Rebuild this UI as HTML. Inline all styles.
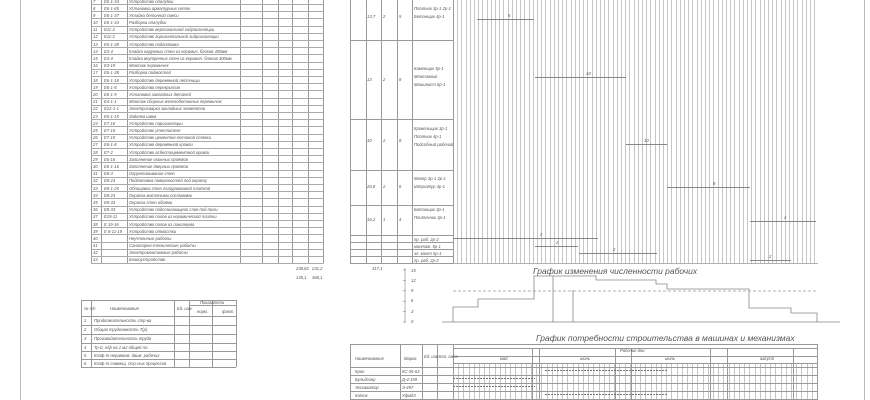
<!DOCTYPE html>
<html><head><meta charset="utf-8"><style>
html,body{margin:0;padding:0;background:#fff}
svg{display:block}
text{font-family:"Liberation Sans",sans-serif;font-style:italic;fill:#555}
</style></head><body>
<svg id="s" width="870" height="400" viewBox="0 0 870 400" xmlns="http://www.w3.org/2000/svg">
<g id="g" stroke="#999" stroke-width="0.7" fill="none"></g>
<g font-size="4.2">
<text x="93" y="3">7</text><text x="104" y="3">Е6-1-34</text><text x="129" y="3">Устройство опалубки</text>
<text x="93" y="10">8</text><text x="104" y="10">Е6-1-65</text><text x="129" y="10">Установка арматурных сеток</text>
<text x="93" y="17">9</text><text x="104" y="17">Е6-1-37</text><text x="129" y="17">Укладка бетонной смеси</text>
<text x="93" y="24">10</text><text x="104" y="24">Е6-1-34</text><text x="129" y="24">Разборка опалубки</text>
<text x="93" y="31">11</text><text x="104" y="31">Е11-2</text><text x="129" y="31">Устройство вертикальной гидроизоляции</text>
<text x="93" y="38">12</text><text x="104" y="38">Е11-2</text><text x="129" y="38">Устройство горизонтальной гидроизоляции</text>
<text x="93" y="46">13</text><text x="104" y="46">Е6-1-38</text><text x="129" y="46">Устройство подготовки</text>
<text x="93" y="53">14</text><text x="104" y="53">Е3-4</text><text x="129" y="53">Кладка наружных стен из керамич. блоков 400мм</text>
<text x="93" y="60">15</text><text x="104" y="60">Е3-4</text><text x="129" y="60">Кладка внутренних стен из керамич. блоков 300мм</text>
<text x="93" y="67">16</text><text x="104" y="67">Е3-19</text><text x="129" y="67">Монтаж перемычек</text>
<text x="93" y="74">17</text><text x="104" y="74">Е6-1-38</text><text x="129" y="74">Разборка подмостей</text>
<text x="93" y="82">18</text><text x="104" y="82">Е6-1-18</text><text x="129" y="82">Устройство деревянной лестницы</text>
<text x="93" y="89">19</text><text x="104" y="89">Е6-1-8</text><text x="129" y="89">Устройство перекрытия</text>
<text x="93" y="96">20</text><text x="104" y="96">Е6-1-9</text><text x="129" y="96">Установка закладных деталей</text>
<text x="93" y="103">21</text><text x="104" y="103">Е4-1-1</text><text x="129" y="103">Монтаж сборных железобетонных перемычек</text>
<text x="93" y="110">22</text><text x="104" y="110">Е22-1-1</text><text x="129" y="110">Электросварка закладных элементов</text>
<text x="93" y="118">23</text><text x="104" y="118">Е6-1-15</text><text x="129" y="118">Заделка швов</text>
<text x="93" y="125">24</text><text x="104" y="125">Е7-16</text><text x="129" y="125">Устройство пароизоляции</text>
<text x="93" y="132">25</text><text x="104" y="132">Е7-15</text><text x="129" y="132">Устройство утеплителя</text>
<text x="93" y="139">26</text><text x="104" y="139">Е7-15</text><text x="129" y="139">Устройство цементно-песчаной стяжки</text>
<text x="93" y="146">27</text><text x="104" y="146">Е6-1-8</text><text x="129" y="146">Устройство деревянной кровли</text>
<text x="93" y="154">28</text><text x="104" y="154">Е7-2</text><text x="129" y="154">Устройство асбестоцементной кровли</text>
<text x="93" y="161">29</text><text x="104" y="161">Е6-16</text><text x="129" y="161">Заполнение оконных проёмов</text>
<text x="93" y="168">30</text><text x="104" y="168">Е6-1-16</text><text x="129" y="168">Заполнение дверных проёмов</text>
<text x="93" y="175">31</text><text x="104" y="175">Е8-4</text><text x="129" y="175">Огрунтовывание стен</text>
<text x="93" y="182">32</text><text x="104" y="182">Е8-24</text><text x="129" y="182">Подготовка поверхностей под окраску</text>
<text x="93" y="190">33</text><text x="104" y="190">Е8-1-25</text><text x="129" y="190">Облицовка стен глазурованной плиткой</text>
<text x="93" y="197">34</text><text x="104" y="197">Е8-24</text><text x="129" y="197">Окраска масляными составами</text>
<text x="93" y="204">35</text><text x="104" y="204">Е8-33</text><text x="129" y="204">Окраска стен обоями</text>
<text x="93" y="211">36</text><text x="104" y="211">Е8-33</text><text x="129" y="211">Устройство подстилающего слоя под полы</text>
<text x="93" y="218">37</text><text x="104" y="218">Е19-11</text><text x="129" y="218">Устройство полов из керамической плитки</text>
<text x="93" y="226">38</text><text x="104" y="226">Е 19-16</text><text x="129" y="226">Устройство полов из линолеума</text>
<text x="93" y="233">39</text><text x="104" y="233">Е 8-11-19</text><text x="129" y="233">Устройство отмостки</text>
<text x="93" y="240">40</text><text x="129" y="240">Неучтенные работы</text>
<text x="93" y="247">41</text><text x="129" y="247">Санитарно-технические работы</text>
<text x="93" y="254">42</text><text x="129" y="254">Электромонтажные работы</text>
<text x="93" y="261">43</text><text x="129" y="261">Благоустройство</text>
<text x="296" y="270">238,82</text><text x="312" y="270">231,2</text><text x="372" y="270">317,1</text>
<text x="296" y="279">135,1</text><text x="312" y="279">368,1</text>
<text x="367" y="81">13</text><text x="383" y="81">2</text><text x="399" y="81">8</text>
<text x="367" y="18">13,7</text><text x="383" y="18">2</text><text x="399" y="18">5</text>
<text x="367" y="142">10</text><text x="383" y="142">2</text><text x="399" y="142">8</text>
<text x="367" y="188">20,8</text><text x="383" y="188">2</text><text x="399" y="188">6</text>
<text x="367" y="221">16,2</text><text x="383" y="221">1</text><text x="399" y="221">4</text>
<text x="414" y="10">Плотник 3р-1 2р-1</text><text x="414" y="18">Бетонщик 4р-1</text>
<text x="414" y="70">Каменщик 5р-1</text><text x="414" y="78">Монтажник</text><text x="414" y="86">Машинист 6р-1</text>
<text x="414" y="130">Кровельщик 3р-1</text><text x="414" y="138">Плотник 4р-1</text><text x="414" y="146">Подсобный рабочий</text>
<text x="414" y="180">Маляр 3р-1 2р-1</text><text x="414" y="188">Штукатур 4р-1</text>
<text x="414" y="211">Бетонщик 3р-1</text><text x="414" y="219">Плиточник 3р-1</text>
<text x="414" y="241">пр. раб. 2р-2</text><text x="414" y="248">монтаж. 5р-1</text><text x="414" y="255">эл.-монт 5р-1</text><text x="414" y="262">пр. раб. 2р-2</text>
<text x="508" y="17">5</text><text x="586" y="75">10</text><text x="644" y="142">10</text><text x="713" y="185">8</text><text x="784" y="219">4</text>
<text x="540" y="236">2</text><text x="556" y="244">2</text><text x="613" y="251">2</text><text x="769" y="258">2</text>
<text x="411" y="272">15</text><text x="411" y="282">12</text><text x="411" y="292">9</text><text x="411" y="302">6</text><text x="411" y="313">3</text><text x="411" y="323">0</text>
<text x="84" y="310">№ п/п</text><text x="110" y="310">Наименование</text><text x="177" y="310">Ед. изм.</text><text x="200" y="304">Показатели</text>
<text x="197" y="313">норм.</text><text x="222" y="313">факт.</text>
<text x="84" y="322">1</text><text x="94" y="322">Продолжительность стр-ва</text>
<text x="84" y="331">2</text><text x="94" y="331">Общая трудоемкость Т(р)</text>
<text x="84" y="340">3</text><text x="94" y="340">Производительность труда</text>
<text x="84" y="349">4</text><text x="94" y="349">Тр-й. н/ф на 1 м2 общей пл.</text>
<text x="84" y="357">5</text><text x="94" y="357">Коэф-т неравном. движ. рабочих</text>
<text x="84" y="365">6</text><text x="94" y="365">Коэф-т совмещ. стр-ных процессов</text>
<text x="355" y="360">Наименование</text><text x="404" y="360">Марка</text><text x="424" y="358">Ед. изм.</text><text x="439" y="358">Кол. смен</text>
<text x="620" y="352">Рабочие дни</text><text x="500" y="360">май</text><text x="580" y="360">июнь</text><text x="665" y="360">июль</text><text x="760" y="360">август</text>
<text x="355" y="373">Кран</text><text x="402" y="373">КС-35-63</text><text x="355" y="381">Бульдозер</text><text x="402" y="381">Д-4-159</text>
<text x="355" y="389">Экскаватор</text><text x="402" y="389">Э-497</text><text x="355" y="397">Каток</text><text x="402" y="397">Уфмд3</text>
</g>
<text x="533" y="274" font-size="8.5">График изменения численности рабочих</text>
<text x="536" y="341" font-size="8.5">График потребности строительства в машинах и механизмах</text>
</svg>
<script>
var g=document.getElementById('g'),N='http://www.w3.org/2000/svg';
function L(x1,y1,x2,y2,c,w,d,cr){var l=document.createElementNS(N,'line');l.setAttribute('x1',x1);l.setAttribute('y1',y1);l.setAttribute('x2',x2);l.setAttribute('y2',y2);if(c)l.setAttribute('stroke',c);if(w)l.setAttribute('stroke-width',w);if(d)l.setAttribute('stroke-dasharray',d);if(cr)l.setAttribute('shape-rendering','crispEdges');g.appendChild(l);}
function P(pts,c,w){var p=document.createElementNS(N,'polyline');p.setAttribute('points',pts);p.setAttribute('stroke',c||'#888');p.setAttribute('stroke-width',w||0.8);g.appendChild(p);}
L(20.5,0,20.5,400,'#bbb',1,0,1);L(864.5,0,864.5,400,'#bbb',1,0,1);
// gantt grid
for(var x=453;x<=818;x+=4.2)L(Math.round(x)+0.5,0,Math.round(x)+0.5,263.5,'#c6c6c6',1,0,1);
L(453,263.5,818,263.5);
// main table
[91,101,127,240,262,278,292,308,323,350,366,381,397,412,453].forEach(function(x){L(x+0.5,0,x+0.5,263.5,'#9a9a9a',1,0,1);});
for(var i=0;i<=36;i++){var y=Math.round(4+i*7.2)+0.5;L(91,y,323,y,'#aaa',1,0,1);}
[40,119,170,205,235,242,249,256,263].forEach(function(y){L(350,y+0.5,453,y+0.5,'#9a9a9a',1,0,1);});
[[477,534,19],[535,626,77],[626,667,144],[667,750,187],[750,816,221],[453,598,238],[535,578,246],[579,657,253],[750,791,260]].forEach(function(b){L(b[0],b[2]+0.5,b[1],b[2]+0.5,'#888',1,0,1);});
// worker chart
L(405,268,405,323,'#999');for(var t=0;t<6;t++)L(403,270+t*10.4,406,270+t*10.4);
L(442,322,840,322,'#888');
P('453,322 453,307 478,307 478,299 534,299 534,276 596,276 596,280 656,280 656,284 667,284 667,289 749,289 749,308 791,308 791,313 817,313 817,322');
L(453,291,818,291,'#999',0.7,'3,2');
L(553,276,553,322,'#777');L(573,290,573,322,'#777');
// bottom-left table
[81,91,174,189,212,236].forEach(function(x){L(x+0.5,300,x+0.5,367,'#999',1,0,1);});
[300,316,325,334,343,351,359,367].forEach(function(y){L(81,y+0.5,236,y+0.5,'#999',1,0,1);});L(189,305.5,236,305.5,'#999',1,0,1);
// machine table
for(var x=453;x<=817;x+=5.2)L(Math.round(x)+0.5,363,Math.round(x)+0.5,400,'#c6c6c6',1,0,1);
[350,400,422,437,453,817].forEach(function(x){L(x+0.5,344,x+0.5,400,'#999',1,0,1);});
[344,367,375,383,391,399].forEach(function(y){L(350,y+0.5,817,y+0.5,'#999',1,0,1);});
[348,356,363].forEach(function(y){L(453,y+0.5,817,y+0.5,'#999',1,0,1);});
[532,539,615,631,710,727,793].forEach(function(x){L(x+0.5,348,x+0.5,400,'#999',1,0,1);});
[[545,667,370],[453,535,378],[453,535,386],[545,667,394]].forEach(function(b){L(b[0],b[2]+0.5,b[1],b[2]+0.5,'#777',1,'2,1',1);});
</script>
</body></html>
